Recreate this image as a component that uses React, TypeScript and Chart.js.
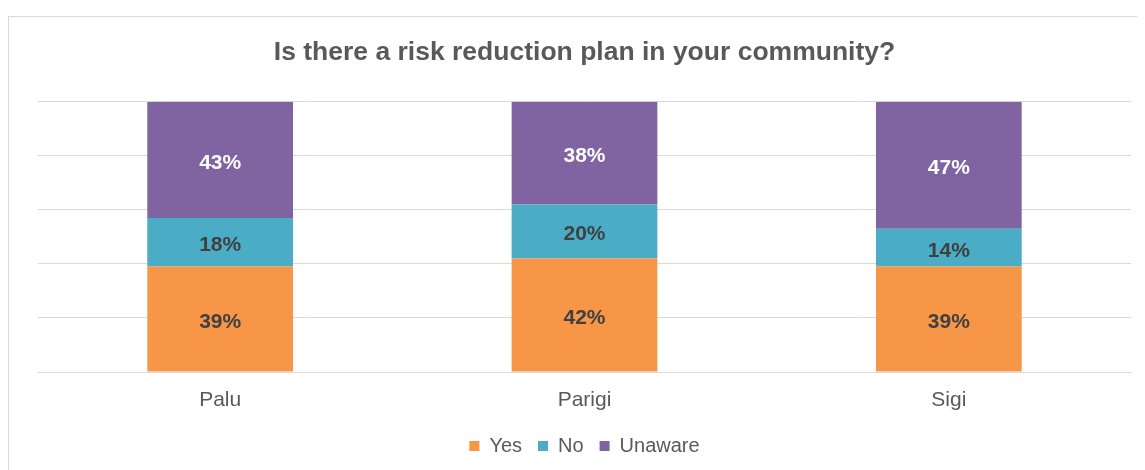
import React, { useEffect, useRef } from "react";
import { Chart, registerables } from "chart.js";

Chart.register(...registerables);

const categories = ["Palu", "Parigi", "Sigi"];
const yesValues = [39, 42, 39];
const noValues = [18, 20, 14];
const unawareValues = [43, 38, 47];
const seriesNames = ["Yes", "No", "Unaware"];
const title = "Is there a risk reduction plan in your community?";

const FONT = "'Liberation Sans', Arial, sans-serif";

const labelPlugin = {
  id: "segLabels",
  afterDatasetsDraw(chart: any) {
    const ctx = chart.ctx;
    ctx.save();
    ctx.font = "bold 21px " + FONT;
    ctx.textAlign = "center";
    ctx.textBaseline = "middle";
    chart.data.datasets.forEach((ds: any, di: number) => {
      const meta = chart.getDatasetMeta(di);
      meta.data.forEach((bar: any, i: number) => {
        const v = ds.data[i];
        const p = bar.getProps(["x", "y", "base"], true);
        ctx.fillStyle = di === 2 ? "#ffffff" : "#404040";
        ctx.fillText(v + "%", p.x, (p.y + p.base) / 2 + 3);
      });
    });
    ctx.restore();
  },
};

export default function App() {
  const ref = useRef<HTMLCanvasElement | null>(null);
  useEffect(() => {
    if (!ref.current) return;
    const chart = new Chart(ref.current, {
      type: "bar",
      data: {
        labels: categories,
        datasets: [
          { label: seriesNames[0], data: yesValues, backgroundColor: "#F79646" },
          { label: seriesNames[1], data: noValues, backgroundColor: "#4BACC6" },
          { label: seriesNames[2], data: unawareValues, backgroundColor: "#8064A2" },
        ],
      },
      options: {
        animation: false,
        responsive: false,
        maintainAspectRatio: false,
        datasets: { bar: { categoryPercentage: 1, barPercentage: 0.4 } },
        layout: { padding: { left: 29, right: 18, top: 0, bottom: 0 } },
        scales: {
          x: {
            stacked: true,
            grid: { display: false, drawTicks: false },
            border: { display: true, color: "#d9d9d9" },
            ticks: {
              color: "#595959",
              font: { size: 21, family: FONT },
              padding: 16,
            },
            afterFit: (scale: any) => {
              scale.height = 48;
            },
          },
          y: {
            stacked: true,
            min: 0,
            max: 100,
            ticks: { display: false, stepSize: 20 },
            grid: { color: "#d9d9d9", lineWidth: 1, drawTicks: false },
            border: { display: false },
          },
        },
        plugins: {
          title: {
            display: true,
            text: title,
            color: "#595959",
            font: { size: 26.5, weight: "bold", family: FONT },
            padding: { top: 20, bottom: 33 },
          },
          legend: {
            position: "bottom",
            labels: {
              color: "#595959",
              boxWidth: 10,
              boxHeight: 10,
              padding: 16,
              font: { size: 20, family: FONT },
            },
          },
          tooltip: { enabled: false },
        },
      },
      plugins: [labelPlugin],
    });
    return () => chart.destroy();
  }, []);
  return (
    <div style={{ paddingTop: 8 }}>
      <div style={{ border: "1px solid #d9d9d9", width: 1150, height: 480, boxSizing: "border-box" }}>
        <canvas ref={ref} width={1140} height={449} style={{ display: "block" }} />
      </div>
    </div>
  );
}
